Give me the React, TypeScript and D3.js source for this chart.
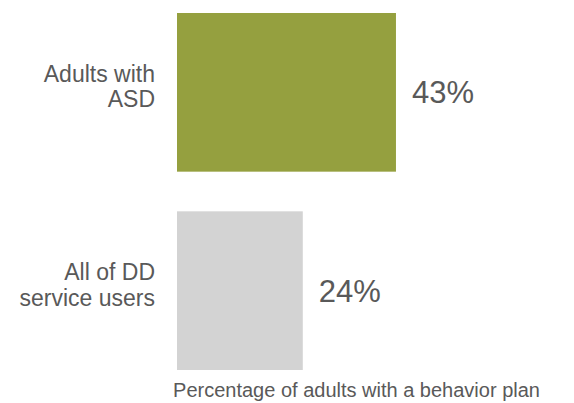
import React from "react";
import * as d3 from "d3";

const categories = ["Adults with ASD", "All of DD service users"];
const labelLines = [["Adults with", "ASD"], ["All of DD", "service users"]];
const values = [43, 24.7];
const valueLabels = ["43%", "24%"];
const colors = ["#95a03f", "#d3d3d3"];
const axisTitle = "Percentage of adults with a behavior plan";

const W = 574;
const H = 403;
const FONT = "'Liberation Sans', Arial, Helvetica, sans-serif";
const TEXT = "#595959";

export default function App() {
  const x = d3.scaleLinear().domain([0, 70.5]).range([177, 536]);
  const y = d3.scaleBand<string>().domain(categories).range([13, 370]).paddingInner(0.2).paddingOuter(0);

  return (
    <svg width={W} height={H} style={{ position: "absolute", left: 0, top: 0 }} fontFamily={FONT}>
      <rect x={0} y={0} width={W} height={H} fill="#ffffff" />
      {categories.map((c, i) => {
        const y0 = y(c)!;
        const bw = y.bandwidth();
        const cy = y0 + bw / 2;
        return (
          <g key={c}>
            <rect x={x(0)} y={y0} width={x(values[i]) - x(0)} height={bw} fill={colors[i]} />
            <text x={x(values[i]) + 16} y={cy} dy="0.36em" fontSize={31} fill={TEXT}>
              {valueLabels[i]}
            </text>
            <text x={155} textAnchor="end" fontSize={23} fill={TEXT}>
              {labelLines[i].map((l, j) => (
                <tspan key={j} x={155} y={cy - 10.5 + j * 25.5}>
                  {l}
                </tspan>
              ))}
            </text>
          </g>
        );
      })}
      <text x={(x.range()[0] + x.range()[1]) / 2} y={397} textAnchor="middle" fontSize={20} fill={TEXT}>
        {axisTitle}
      </text>
    </svg>
  );
}
